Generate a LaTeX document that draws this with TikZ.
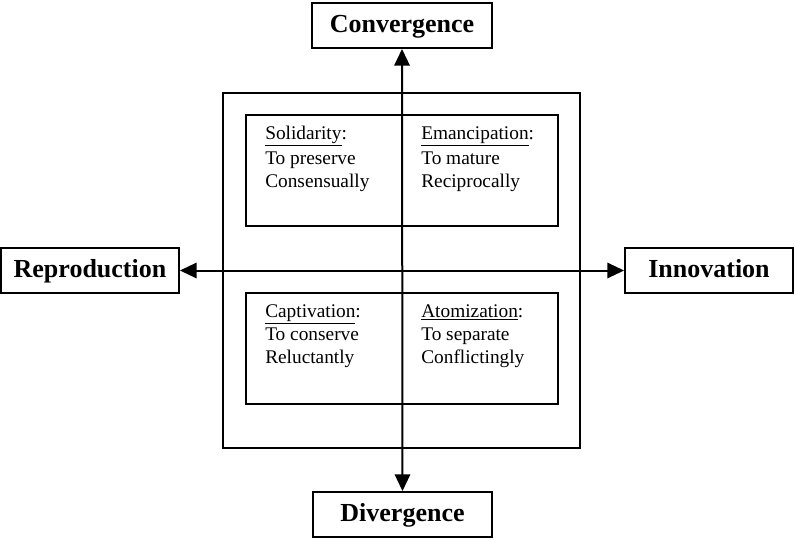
\documentclass[tikz,border=0pt]{standalone}
\usepackage{fontspec}
\setmainfont{Liberation Serif}
\usetikzlibrary{arrows.meta}
\begin{document}
\begin{tikzpicture}[x=0.75pt,y=-0.75pt,
  lbl/.style={draw,line width=1.4pt,inner sep=0pt,minimum height=33.75pt,text height=14pt,text depth=3.5pt,font=\fontsize{19.5}{22}\selectfont\bfseries},
  frame/.style={draw,line width=1.4pt,inner sep=0pt},
  txt/.style={anchor=base west,inner sep=0pt,font=\fontsize{14.5}{17}\selectfont},
  axis/.style={line width=1.5pt,{Triangle[length=12.5pt,width=11.5pt]}-{Triangle[length=12.5pt,width=11.5pt]}}]
\useasboundingbox (0,0) rectangle (796,539);
\node[lbl,minimum width=135pt] (conv) at (402,25.5) {Convergence};
\node[lbl,minimum width=134.25pt] (div) at (402.5,514.5) {Divergence};
\node[lbl,minimum width=133.5pt] (rep) at (90,270.5) {Reproduction};
\node[lbl,minimum width=126pt] (inn) at (709,270.5) {Innovation};
\node[frame,minimum width=267.75pt,minimum height=266.25pt] (outer) at (401.5,270.5) {};
\node[frame,minimum width=234pt,minimum height=83.25pt] (topbox) at (402,170.5) {};
\node[frame,minimum width=234pt,minimum height=83.25pt] (botbox) at (402,348.5) {};
\node[txt] (s1) at (265,139) {\underline{Solidarity}:};
\node[txt] (s2) at (265,164) {To preserve};
\node[txt] (s3) at (265,187) {Consensually};
\node[txt] (e1) at (421,139) {\underline{Emancipation}:};
\node[txt] (e2) at (421,164) {To mature};
\node[txt] (e3) at (421,187) {Reciprocally};
\node[txt] (c1) at (265,317) {\underline{Captivation}:};
\node[txt] (c2) at (265,340) {To conserve};
\node[txt] (c3) at (265,363) {Reluctantly};
\node[txt] (a1) at (421,317) {\underline{Atomization}:};
\node[txt] (a2) at (421,340) {To separate};
\node[txt] (a3) at (421,363) {Conflictingly};
\draw[axis] (conv.south) -- (div.north);
\draw[axis] (rep.east) -- (inn.west);
\end{tikzpicture}
\end{document}
